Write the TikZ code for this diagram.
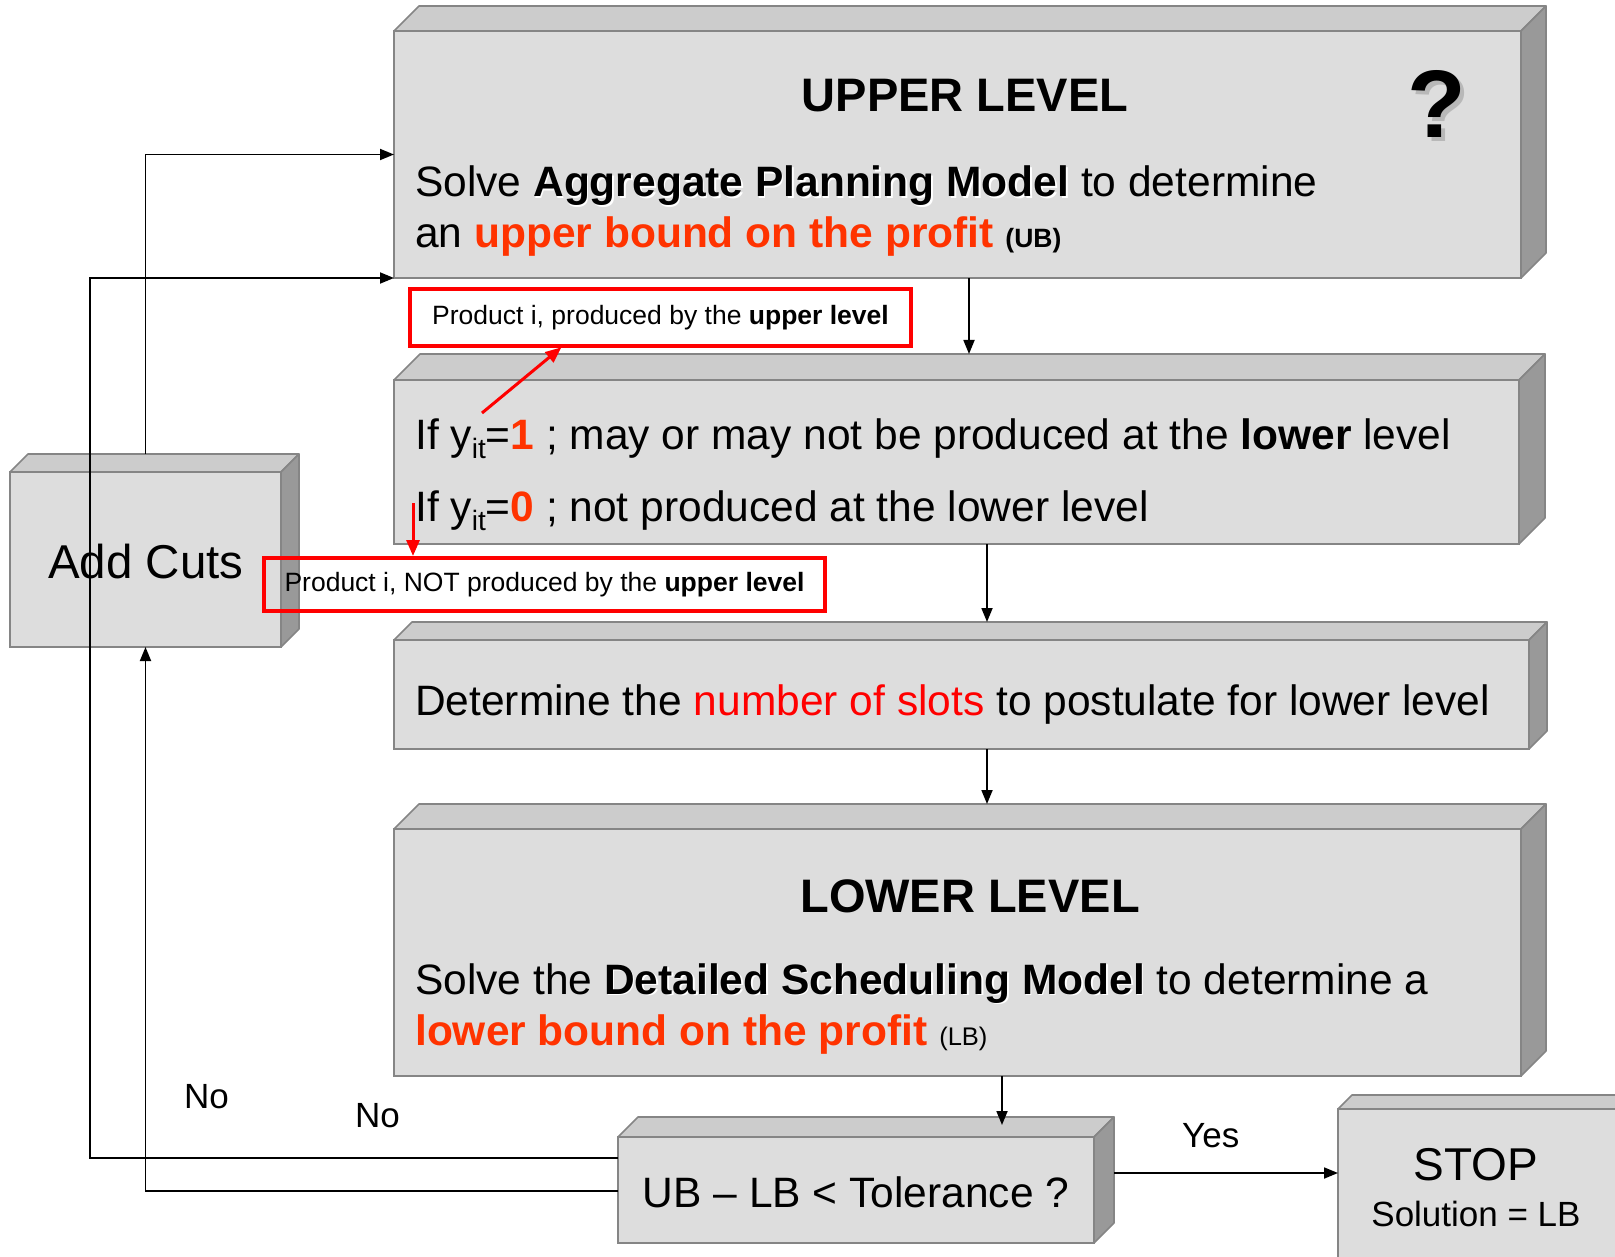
\documentclass[tikz,border=0pt]{standalone}
\usepackage{fontspec}
\setmainfont{Liberation Sans}
\usetikzlibrary{arrows.meta}

\definecolor{frontgray}{HTML}{DDDDDD}
\definecolor{topgray}{HTML}{CCCCCC}
\definecolor{sidegray}{HTML}{999999}
\definecolor{edgegray}{HTML}{858585}
\definecolor{hotorange}{HTML}{FF3300}
\definecolor{slotred}{HTML}{FF0000}

% font size helper
\newcommand\fsz[1]{\fontsize{#1pt}{#1pt}\selectfont}
% bold text with a light embossed shadow
\newcommand\embold[1]{\leavevmode\rlap{\hspace{1.6pt}\raisebox{-1.6pt}{\color{white}\bfseries #1}}{\bfseries #1}}
% y with subscript it
\newcommand\yit{y\raisebox{-9pt}{\fsz{28}it}}

\tikzset{
  front/.style={draw=edgegray, fill=frontgray, line width=1.6pt, anchor=north west,
                inner sep=0pt, outer sep=0pt},
  face/.style={draw=edgegray, line width=1.6pt, line join=round},
  conn/.style={line width=1.8pt, -{Triangle[length=14pt,width=11pt]}},
  redarrow/.style={draw=slotred, line width=3pt, -{Triangle[length=16pt,width=13pt]}},
  note/.style={draw=slotred, line width=4pt, inner sep=0pt, outer sep=0pt, font=\fsz{26.5}},
  txt/.style={anchor=base west, inner sep=0pt, font=\fsz{42.5}},
  ctxt/.style={anchor=base, inner sep=0pt},
}

% raised box: name, x1, y1, x2, y2, depth (y grows downward)
\newcommand\cubebox[6]{%
  \pgfmathsetmacro\cbw{#4-#2}%
  \pgfmathsetmacro\cbh{#5-#3}%
  \node[front, minimum width=\cbw pt, minimum height=\cbh pt] (#1) at (#2,#3) {};
  \coordinate (#1back) at ([shift={(#6,-#6)}]#1.north west);
  \filldraw[face, fill=topgray] (#1.north west) -- (#1back)
     -- ([shift={(#6,-#6)}]#1.north east) -- (#1.north east) -- cycle;
  \filldraw[face, fill=sidegray] (#1.north east) -- ([shift={(#6,-#6)}]#1.north east)
     -- ([shift={(#6,-#6)}]#1.south east) -- (#1.south east) -- cycle;
}

\begin{document}
\begin{tikzpicture}[x=1pt, y=-1pt]
\useasboundingbox (0,0) rectangle (1615,1257);
\clip (0,0) rectangle (1615,1257);

% boxes
\cubebox{ubox}{394}{31}{1521}{278}{25}
\cubebox{ifbox}{394}{380}{1519}{544}{26}
\cubebox{slotbox}{394}{640}{1529}{749}{18}
\cubebox{lbox}{394}{829}{1521}{1076}{25}
\cubebox{cuts}{10}{472}{281}{647}{18}
\cubebox{dec}{618}{1137}{1094}{1243}{20}
\cubebox{stop}{1338}{1109}{1640}{1300}{14}

% upper level
\node[ctxt, font=\fsz{47}\bfseries] (uptitle) at (965,112) {UPPER LEVEL};
\node[ctxt, font=\fsz{96}\bfseries, text=black!28] (qshadow) at (1441,142) {?};
\node[ctxt, font=\fsz{96}\bfseries] (qmark) at (1437,138) {?};
\node[txt] (up1) at (415,197) {Solve \embold{Aggregate Planning Model} to determine};
\node[txt] (up2) at (415,248) {an {\color{hotorange}\bfseries upper bound on the profit} {\fsz{26.5}\bfseries (UB)}};

% production conditions
\node[txt] (yone) at (415,449) {If \yit=\textcolor{hotorange}{\bfseries 1} ; may or may not be produced at the \textbf{lower} level};
\node[txt] (yzero) at (415,521) {If \yit=\textcolor{hotorange}{\bfseries 0} ; not produced at the lower level};

% slots
\node[txt] (slots) at (415,715) {Determine the \textcolor{slotred}{number of slots} to postulate for lower level};

% lower level
\node[ctxt, font=\fsz{47}\bfseries] (lowtitle) at (970,912) {LOWER LEVEL};
\node[txt] (low1) at (415,994) {Solve the \embold{Detailed Scheduling Model} to determine a};
\node[txt] (low2) at (415,1045) {{\color{hotorange}\bfseries lower bound on the profit} {\fsz{25.5}(LB)}};

% other boxes
\node[ctxt, font=\fsz{47.5}] (cutslabel) at (146,578) {Add Cuts};
\node[ctxt, font=\fsz{42.5}] (declabel) at (856,1207) {UB – LB < Tolerance ?};
\node[ctxt, font=\fsz{46}] (stoplabel) at (1476,1180) {STOP};
\node[ctxt, font=\fsz{35}] (sollabel) at (1476,1226) {Solution = LB};

% notes
\node[note, minimum width=501pt, minimum height=57pt] (redone) at (660.5,317.5)
  {Product i, produced by the \textbf{upper level}};
\node[note, minimum width=561pt, minimum height=53pt] (redtwo) at (544.5,584.5)
  {Product i, NOT produced by the \textbf{upper level}};

\coordinate (rone) at (482,413);
\draw[redarrow, shorten >=2pt] (rone) -- ([xshift=153pt]redone.south west);
\coordinate (rtwo) at (413,503);
\draw[redarrow, shorten >=2pt] (rtwo) -- (rtwo |- redtwo.north);

% main flow
\coordinate (aone) at ([xshift=575pt]ubox.south west);
\draw[conn] (aone) -- (aone |- ifboxback);
\coordinate (atwo) at ([xshift=593pt]ifbox.south west);
\draw[conn] (atwo) -- (atwo |- slotboxback);
\coordinate (athree) at ([xshift=593pt]slotbox.south west);
\draw[conn] (athree) -- (athree |- lboxback);
\coordinate (afour) at ([xshift=608pt]lbox.south west);
\draw[conn, shorten >=-8pt] (afour) -- (afour |- decback);

\coordinate (yesstart) at ([shift={(20,-17)}]dec.east);
\draw[conn] (yesstart) -- (yesstart -| stop.west);

% feedback loops
\coordinate (noA) at ([yshift=32pt]dec.west);
\coordinate (loopA) at (90,278);
\draw[conn] (noA) -| (loopA) -- (ubox.south west);
\draw[conn] ([yshift=-1pt]dec.west) -| (cuts.south);
\draw[conn] (cuts.north |- cutsback) |- (ubox.west);

% branch labels
\node[anchor=base west, inner sep=0pt, font=\fsz{35}] (noone) at (184,1108) {No};
\node[anchor=base west, inner sep=0pt, font=\fsz{35}] (notwo) at (355,1127) {No};
\node[anchor=base west, inner sep=0pt, font=\fsz{35}] (yes) at (1182,1147) {Yes};
\end{tikzpicture}
\end{document}
